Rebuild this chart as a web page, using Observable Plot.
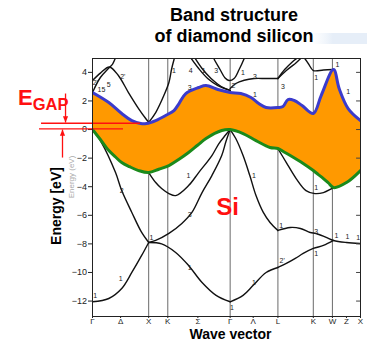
<!DOCTYPE html>
<html><head><meta charset="utf-8">
<script src="https://cdn.jsdelivr.net/npm/d3@7"></script>
<script src="https://cdn.jsdelivr.net/npm/@observablehq/plot@0.6"></script>
<style>
html,body{margin:0;padding:0;background:#fff;}
#wrap{position:relative;width:367px;height:344px;overflow:hidden;font-family:"Liberation Sans",Arial,sans-serif;}
#wrap > svg{position:absolute;left:0;top:0;}
</style></head><body><div id="wrap"></div>
<script>
// ---- high-symmetry path (k in units of Γ–X) ----
const symK = [0, 0.5, 1.0, 1.34, 1.875, 2.45, 2.86, 3.30, 3.93, 4.27, 4.52, 4.77];
const symNames = ["Γ","Δ","X","K","Σ","Γ","Λ","L","K","W","Z","X"];
const symLines = [1.0, 1.34, 2.45, 3.30, 3.93, 4.27];
const energyTicks = [4, 2, 0, -2, -4, -6, -8, -10, -12];

// ---- conduction band minimum (blue) and valence band maximum (green) ----
const blueK = [0,0.29,0.52,0.70,0.86,0.96,1.125,1.30,1.45,1.54,1.66,1.89,2.02,2.23,2.45,2.64,2.82,2.96,3.09,3.30,3.39,3.48,3.59,3.73,3.93,4.07,4.29,4.39,4.55,4.77];
const blueE = [2.59,1.89,1.12,0.63,0.42,0.42,0.63,0.98,1.33,1.82,2.52,2.94,3.08,2.8,2.59,2.52,2.24,1.82,1.54,1.54,1.61,2.10,2.03,1.68,1.12,2.38,4.20,2.87,1.47,0.63];
const greenK = [0,0.14,0.29,0.41,0.52,0.66,0.82,1.0,1.18,1.36,1.54,1.71,1.87,2.02,2.30,2.45,2.68,2.91,3.16,3.30,3.41,3.52,3.75,3.93,4.02,4.11,4.20,4.29,4.52,4.77];
const greenE = [0,-0.7,-1.47,-1.92,-2.31,-2.6,-2.87,-3.01,-2.78,-2.52,-2.08,-1.61,-1.1,-0.63,-0.07,0,-0.28,-0.77,-1.26,-1.33,-1.57,-1.82,-2.38,-2.87,-3.15,-3.43,-3.74,-4.06,-3.71,-2.87];

// ---- other bands [k, E] ----
const bandC1 = [[0,2.59],[0.14,3.64],[0.29,4.30],[0.36,4.60],[0.41,5.03],[0.46,5.6]];
const bandC2 = [[0,3.43],[0.14,3.95],[0.3,4.38],[0.46,3.78],[0.64,2.59],[0.82,1.47],[0.96,0.7],[1.0,0.5]];
const bandC3 = [[1.0,0.5],[1.125,1.19],[1.27,2.38],[1.36,3.29],[1.41,4.27],[1.46,5.03],[1.5,5.6]];
const bandS4a = [[1.68,5.4],[1.89,4.27],[2.05,3.57],[2.23,3.08],[2.45,2.73]];
const bandS4b = [[1.76,5.4],[1.95,4.27],[2.11,3.57],[2.29,3.01],[2.45,2.73]];
const bandP = [[2.12,5.4],[2.16,4.97],[2.27,4.2],[2.36,3.6],[2.43,3.43],[2.52,3.57],[2.61,4.2],[2.70,4.97],[2.74,5.4]];
const bandR = [[2.45,2.87],[2.55,3.22],[2.70,3.45],[2.875,3.57],[3.09,3.57],[3.30,3.57]];
const bandT1 = [[3.30,3.57],[3.45,4.13],[3.61,4.62],[3.75,5.03],[3.84,4.62],[3.93,4.13],[4.11,4.17],[4.29,4.2]];
const bandT2 = [[3.30,3.57],[3.42,4.2],[3.56,4.75],[3.70,5.2],[3.74,5.5]];
const bandV1 = [[0,-12.05],[0.29,-11.82],[0.52,-11.12],[0.70,-10.0],[0.875,-8.81],[1.0,-7.9]];
const bandV2 = [[0,0],[0.16,-0.91],[0.41,-3.01],[0.52,-4.27],[0.70,-5.80],[0.875,-7.20],[1.0,-7.9]];
const bandS1 = [[1.0,-3.01],[1.125,-3.71],[1.23,-4.13],[1.36,-4.48],[1.48,-4.62],[1.71,-3.92],[1.89,-3.01],[2.125,-1.82],[2.25,-0.98],[2.36,-0.42],[2.45,0]];
const bandS3 = [[1.0,-7.9],[1.125,-7.76],[1.36,-7.27],[1.59,-6.57],[1.77,-5.80],[1.95,-4.41],[2.125,-3.22],[2.30,-1.82],[2.375,-0.84],[2.45,0]];
const bandS5 = [[1.0,-7.9],[1.23,-8.0],[1.48,-8.6],[1.71,-9.51],[1.95,-10.7],[2.20,-11.6],[2.45,-12.05]];
const bandL1 = [[2.45,-12.05],[2.68,-11.6],[2.86,-10.9],[3.09,-10.0],[3.30,-9.65]];
const bandL2 = [[2.45,0],[2.55,-0.63],[2.68,-1.82],[2.80,-3.22],[2.91,-4.62],[3.04,-5.80],[3.16,-6.50],[3.30,-7.06]];
const bandQ1 = [[3.30,-1.33],[3.45,-2.31],[3.625,-3.43],[3.80,-4.27],[3.96,-4.48],[4.11,-4.41],[4.29,-4.06]];
const bandQ2 = [[3.30,-7.06],[3.52,-6.85],[3.70,-6.92],[3.875,-7.20],[3.98,-7.27],[4.16,-7.55],[4.29,-7.76],[4.52,-7.90],[4.77,-7.97]];
const bandQ3 = [[3.30,-9.65],[3.45,-9.37],[3.61,-9.02],[3.75,-8.67],[3.93,-8.32],[4.11,-8.11],[4.29,-7.76]];
const blackBands = [bandC1,bandC2,bandC3,bandS4a,bandS4b,bandP,bandR,bandT1,bandT2,bandV1,bandV2,bandS1,bandS3,bandS5,bandL1,bandL2,bandQ1,bandQ2,bandQ3];

// ---- small band labels ----
const labK = [0.05,0.16,0.29,0.54,1.45,1.75,1.98,2.20,2.68,1.73,2.52,2.89,2.89,3.39,3.98,4.36,4.55,0.52,1.71,1.73,1.05,0.5,0.05,1.73,2.875,3.98,3.36,3.98,4.34,4.54,4.73,3.98,3.375,2.875,2.48];
const labE = [3.29,2.8,3.15,3.71,4.13,4.13,4.13,4.13,3.99,2.94,3.08,3.71,2.45,3.01,3.64,4.55,2.66,-4.27,-3.22,-5.94,-7.55,-10.42,-11.6,-9.65,-3.22,-4.06,-6.71,-7.13,-7.41,-7.48,-7.55,-8.67,-9.16,-10.7,-12.45];
const labT = ["2'","15","5","2'","1","4","1","3","1","3","2'","3","1","3","1","1","1","2","1","3","1","1","1","1","1","1","1","3","1","1","1","1","2'","1","1"];

// ---- band-gap annotation (energies of the two guide lines) ----
const gapLineE = [0.44, 0.05];
const gapLineK1 = [-0.907, -0.943];
const gapLineK2 = [0.854, 0.552];
const arrowK = [-0.48, -0.534];
const arrowFromE = [2.52, -1.96];
const arrowToE = [0.49, 0.0];

const idx = blueK.map((_, i) => i);
const bandRows = blackBands.flatMap((b, j) => b.map(([k, E]) => ({k, E, band: j})));

const downTip = {draw(ctx, size){const r=Math.sqrt(size/Math.PI);ctx.moveTo(0,0);ctx.lineTo(-r,-2.4*r);ctx.lineTo(r,-2.4*r);ctx.closePath();}};
const upTip = {draw(ctx, size){const r=Math.sqrt(size/Math.PI);ctx.moveTo(0,0);ctx.lineTo(-r,2.4*r);ctx.lineTo(r,2.4*r);ctx.closePath();}};

const kMax = symK[symK.length - 1];
const fmtE = d => d < 0 ? "\u2212" + Math.abs(d) : String(d);

const chart = Plot.plot({
  width: 367, height: 344,
  marginLeft: 92, marginRight: 7, marginTop: 58, marginBottom: 28,
  style: {fontFamily: "'Liberation Sans', Arial, sans-serif", fontSize: "9px", background: "transparent", overflow: "visible", color: "#222"},
  x: {domain: [0, kMax], ticks: symK, tickFormat: () => "", tickSize: 2, tickPadding: 0, label: null},
  y: {domain: [-13.08, 4.97], ticks: energyTicks, tickFormat: fmtE, tickSize: 4, tickPadding: 1.5, label: null},
  marks: [
    Plot.ruleX(symLines, {stroke: "#444", strokeWidth: 0.8}),
    Plot.line(bandRows, {x: "k", y: "E", z: "band", stroke: "#111", strokeWidth: 1.4, curve: "catmull-rom", clip: true}),
    Plot.area(idx, {x1: i => blueK[i], y1: i => blueE[i], x2: i => greenK[i], y2: i => greenE[i], fill: "#ff9900", curve: "catmull-rom", clip: true}),
    Plot.line(idx, {x: i => blueK[i], y: i => blueE[i], stroke: "#3b3bcc", strokeWidth: 3, curve: "catmull-rom", clip: true}),
    Plot.line(idx, {x: i => greenK[i], y: i => greenE[i], stroke: "#1b8a1b", strokeWidth: 3, curve: "catmull-rom", clip: true}),
    Plot.text(labT, {x: (d, i) => labK[i], y: (d, i) => labE[i], text: d => d, fontSize: 7, fill: "#222"}),
    Plot.text(symNames, {x: (d, i) => symK[i], frameAnchor: "bottom", lineAnchor: "middle", dy: 4.5, text: d => d, fontSize: 8, fill: "#222"}),
    Plot.ruleY(energyTicks, {x1: kMax - 0.07, x2: kMax, stroke: "#444"}),
    Plot.ruleY(gapLineE, {x1: gapLineK1, x2: gapLineK2, stroke: "#ff1010", strokeWidth: 1.3}),
    Plot.link(arrowK, {x1: arrowK, x2: arrowK, y1: arrowFromE, y2: arrowToE, stroke: "#ff1010", strokeWidth: 1.3}),
    Plot.dot([0], {x: arrowK[0], y: arrowToE[0], symbol: downTip, r: 2.6, fill: "#ff1010", stroke: "none"}),
    Plot.dot([1], {x: arrowK[1], y: arrowToE[1], symbol: upTip, r: 2.6, fill: "#ff1010", stroke: "none"}),
    Plot.frame({stroke: "#222", strokeWidth: 1})
  ]
});
const wrap = document.getElementById("wrap");
wrap.appendChild(chart);

const ns = "http://www.w3.org/2000/svg";
const ov = document.createElementNS(ns, "svg");
ov.setAttribute("width", 367); ov.setAttribute("height", 344);
ov.setAttribute("font-family", "'Liberation Sans', Arial, sans-serif");
ov.innerHTML = `
<defs><linearGradient id="gb" x1="0" x2="1"><stop offset="0" stop-color="#f2f7fc" stop-opacity="0"/><stop offset="0.4" stop-color="#e6eef8"/><stop offset="1" stop-color="#e6eef8"/></linearGradient></defs>
<rect x="310" y="33" width="57" height="11" fill="url(#gb)"/>
<text x="234" y="21" text-anchor="middle" font-size="18" font-weight="bold" fill="#000">Band structure</text>
<text x="234" y="42" text-anchor="middle" font-size="18" font-weight="bold" fill="#000">of diamond silicon</text>
<text x="18" y="105" fill="#ff1010" font-weight="bold"><tspan font-size="22">E</tspan><tspan font-size="16.5" dy="5">GAP</tspan></text>
<text transform="translate(74,177) rotate(-90)" text-anchor="middle" font-size="8" fill="#aaa">Energy (eV)</text>
<text transform="translate(60.5,206) rotate(-90)" text-anchor="middle" font-size="14" font-weight="bold" fill="#000">Energy [eV]</text>
<text x="227.5" y="215" text-anchor="middle" font-size="24" font-weight="bold" fill="#ff1010">Si</text>
<text x="230.5" y="338.5" text-anchor="middle" font-size="14" font-weight="bold" fill="#000">Wave vector</text>`;
wrap.appendChild(ov);
</script>
</body></html>
